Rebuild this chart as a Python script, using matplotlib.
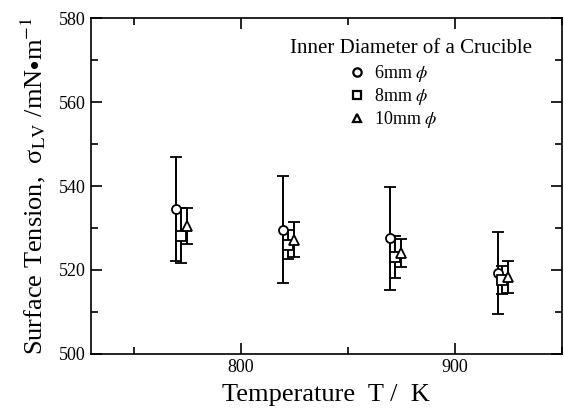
import matplotlib
matplotlib.use("Agg")
import matplotlib.pyplot as plt
from matplotlib.lines import Line2D
from matplotlib.ticker import MultipleLocator

plt.rcParams["font.family"] = ["Liberation Serif", "DejaVu Serif"]
plt.rcParams["mathtext.fontset"] = "stix"

# temperatures (K) for each crucible, slightly offset in the original plot
temp_6mm = [770, 820, 870, 920]
temp_8mm = [772, 822, 872, 922]
temp_10mm = [775, 825, 875, 925]

# surface tension (mN/m) and error bar half-widths
st_6mm = [534.5, 529.6, 527.5, 519.2]
err_6mm = [12.4, 12.8, 12.3, 9.8]
st_8mm = [528.2, 526.0, 523.0, 517.6]
err_8mm = [6.5, 3.5, 5.0, 3.4]
st_10mm = [530.4, 527.2, 524.0, 518.3]
err_10mm = [4.3, 4.2, 3.3, 3.8]

labels = [r"6mm $\phi$", r"8mm $\phi$", r"10mm $\phi$"]
markers = ["o", "s", "^"]

fig = plt.figure(figsize=(5.64, 4.12), dpi=100)
ax = fig.add_axes([0.161, 0.141, 0.835, 0.815])

series = [(temp_6mm, st_6mm, err_6mm), (temp_8mm, st_8mm, err_8mm), (temp_10mm, st_10mm, err_10mm)]
for (t, s, e), m in zip(series, markers):
    ax.errorbar(t, s, yerr=e, fmt=m, color="black", mfc="white", mec="black",
                ms=6.5, mew=1.3, elinewidth=1.4, capsize=4, capthick=1.4)

ax.set_xlim(730, 950)
ax.set_ylim(500, 580)
ax.xaxis.set_major_locator(MultipleLocator(100))
ax.xaxis.set_minor_locator(MultipleLocator(50))
ax.yaxis.set_major_locator(MultipleLocator(20))
ax.yaxis.set_minor_locator(MultipleLocator(10))
ax.tick_params(which="both", direction="in", top=True, right=True, labelsize=13, width=1.2)
ax.tick_params(which="major", length=8)
ax.tick_params(which="minor", length=5)
for spine in ax.spines.values():
    spine.set_linewidth(1.2)

ax.set_xlabel("Temperature  T /  K", fontsize=19, labelpad=6)
ax.set_ylabel("Surface Tension,  σ$_{\\rm LV}$ /mN$\\bullet$m$^{-1}$", fontsize=19, labelpad=8)

# legend title drawn separately so the entries can sit left of its centre
ax.text(0.4225, 0.91, "Inner Diameter of a Crucible", transform=ax.transAxes,
        fontsize=15, ha="left", va="center")
handles = [Line2D([], [], ls="none", marker=m, ms=6, mfc="white", mec="black", mew=1.6)
           for m in markers]
ax.legend(handles, labels, loc="upper left", bbox_to_anchor=(0.55, 0.866), frameon=False,
          fontsize=13, borderpad=0, borderaxespad=0, handletextpad=0.55,
          labelspacing=0.12, handlelength=0.8)

fig.savefig("out.png", dpi=100)
